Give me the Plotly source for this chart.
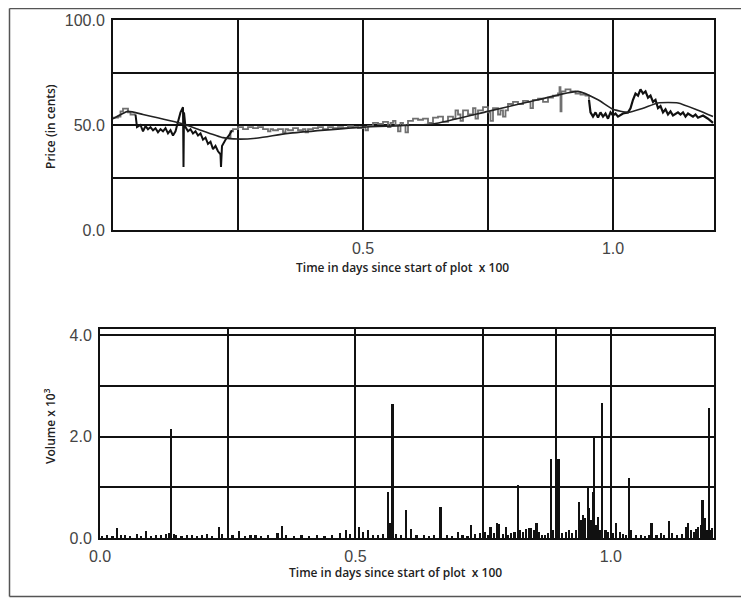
import plotly.graph_objects as go

# ---------------- data ----------------
# moving-average (smooth) price line
avg_time = [0, 0.03, 0.06, 0.14, 0.17, 0.22, 0.25, 0.29, 0.35, 0.5, 0.64, 0.75, 0.85, 0.93,
            0.97, 1.0, 1.03, 1.06, 1.09, 1.13, 1.17, 1.2]
avg_price = [53, 56.5, 55, 50.5, 48, 44, 43.3, 43.8, 46, 49, 50.5, 56.5, 62, 66,
             62, 57.5, 56, 58, 60.5, 60.5, 57, 54]

# trade price, grey segments
grey_time_a = [0, 0.01, 0.015, 0.02, 0.027, 0.03, 0.035, 0.045]
grey_price_a = [53.5, 54, 56.5, 57.8, 57.8, 56, 55, 55]
grey_time_b = [0.23, 0.235, 0.24, 0.25, 0.26, 0.27, 0.28, 0.29, 0.30, 0.31, 0.315, 0.32, 0.33, 0.34,
               0.345, 0.35, 0.36, 0.37, 0.38, 0.385, 0.39, 0.40, 0.41, 0.42, 0.43, 0.44, 0.45, 0.46,
               0.47, 0.48, 0.49, 0.50, 0.505, 0.51, 0.52, 0.53, 0.54, 0.55, 0.555, 0.56, 0.565, 0.57,
               0.575, 0.58, 0.585, 0.59, 0.60, 0.61, 0.62, 0.63, 0.64, 0.65, 0.66, 0.67, 0.68, 0.685,
               0.69, 0.695, 0.70, 0.71, 0.72, 0.725, 0.73, 0.74, 0.75, 0.755, 0.76, 0.77, 0.775, 0.78,
               0.785, 0.79, 0.80, 0.81, 0.82, 0.83, 0.835, 0.84, 0.85, 0.86, 0.87, 0.88, 0.89, 0.893,
               0.895, 0.897, 0.905, 0.915, 0.925, 0.935, 0.945, 0.952]
grey_price_b = [44, 47, 48, 49, 48, 49, 48.5, 49, 48, 47, 48, 47.5, 48, 46.5,
                48, 47.5, 48.5, 47.5, 48, 46.5, 48, 48.5, 49, 48, 49, 48.5, 49, 48.5,
                49.5, 49, 48.5, 49, 47.5, 49.5, 51, 50.5, 51.5, 49, 51, 52, 50, 47,
                51, 50, 46.5, 52, 53, 52.5, 53, 51, 53.5, 54, 51.5, 54, 53, 57,
                55, 52, 57, 55, 58, 53, 57, 58.5, 56, 52, 58, 55, 57, 54,
                57, 60, 61, 60, 61.5, 61, 58, 62, 62.5, 61, 63, 64, 65, 68,
                56.5, 66, 67, 66, 65, 64.5, 64, 62]

# trade price, black segments
black_time_a = [0.045, 0.048, 0.055, 0.06, 0.065, 0.07, 0.075, 0.08, 0.085, 0.09, 0.095, 0.10,
                0.105, 0.11, 0.115, 0.12, 0.125, 0.13, 0.135, 0.14, 0.141, 0.142, 0.145, 0.15,
                0.155, 0.16, 0.165, 0.17, 0.175, 0.18, 0.185, 0.19, 0.195, 0.20, 0.205, 0.21,
                0.215, 0.216, 0.218, 0.225, 0.232, 0.238]
black_price_a = [55, 49, 50, 47, 49.5, 48, 49, 47.5, 48.5, 46.5, 48, 47,
                 48.5, 46, 47.5, 45, 47, 52, 56, 58.5, 30, 56, 49, 47,
                 48, 46, 47, 45, 46, 43, 44, 41, 42, 38.5, 40, 37.5,
                 36, 30, 40, 43, 45, 47.5]
black_time_b = [0.952, 0.955, 0.96, 0.965, 0.97, 0.975, 0.98, 0.985, 0.99, 0.995, 1.0, 1.005,
                1.01, 1.02, 1.03, 1.035, 1.04, 1.045, 1.05, 1.055, 1.06, 1.065, 1.07, 1.075,
                1.08, 1.085, 1.09, 1.095, 1.10, 1.105, 1.11, 1.115, 1.12, 1.13, 1.135, 1.14,
                1.145, 1.15, 1.16, 1.165, 1.17, 1.18, 1.19, 1.195, 1.2]
black_price_b = [62, 56, 54, 56, 53.5, 56, 54, 55.5, 53, 56, 54.5, 55.5,
                 54, 55.5, 56, 58, 62, 65, 64, 67, 65, 66, 63, 64,
                 61, 62, 58, 59, 56, 57.5, 55, 56.5, 54.5, 56, 55, 56,
                 54, 55.5, 54, 55, 53.5, 54.5, 53, 52, 51]

# volume (x 10^3)
vol_time = [0.005, 0.015, 0.025, 0.034, 0.042, 0.05, 0.06, 0.073, 0.08, 0.09, 0.10, 0.11, 0.12,
            0.13, 0.135, 0.14, 0.145, 0.15, 0.16, 0.17, 0.18, 0.19, 0.20, 0.21, 0.22, 0.233,
            0.24, 0.26, 0.273, 0.285, 0.295, 0.305, 0.315, 0.33, 0.348, 0.356, 0.365, 0.38,
            0.395, 0.41, 0.425, 0.44, 0.455, 0.47, 0.482, 0.49, 0.508, 0.515, 0.525, 0.535,
            0.545, 0.555, 0.565, 0.568, 0.573, 0.58, 0.59, 0.60, 0.61, 0.62, 0.635, 0.645,
            0.655, 0.667, 0.68, 0.69, 0.702, 0.71, 0.72, 0.727, 0.735, 0.745, 0.755, 0.76,
            0.765, 0.772, 0.778, 0.782, 0.79, 0.795, 0.80, 0.805, 0.812, 0.818, 0.822, 0.828,
            0.835, 0.84, 0.845, 0.85, 0.855, 0.86, 0.866, 0.872, 0.878, 0.883, 0.888, 0.893,
            0.897, 0.899, 0.905, 0.912, 0.918, 0.925, 0.932, 0.938, 0.942, 0.946, 0.95, 0.955,
            0.958, 0.962, 0.966, 0.968, 0.972, 0.976, 0.98, 0.984, 0.99, 0.995, 1.0, 1.005,
            1.01, 1.018, 1.025, 1.03, 1.036, 1.04, 1.05, 1.06, 1.068, 1.075, 1.08, 1.09,
            1.098, 1.105, 1.115, 1.12, 1.13, 1.14, 1.147, 1.152, 1.157, 1.163, 1.168, 1.172,
            1.177, 1.18, 1.184, 1.188, 1.192, 1.196, 1.199]
vol_k = [0.04, 0.05, 0.04, 0.20, 0.05, 0.06, 0.04, 0.08, 0.04, 0.14, 0.04, 0.06, 0.05,
         0.08, 0.10, 2.15, 0.07, 0.05, 0.04, 0.05, 0.06, 0.04, 0.05, 0.07, 0.04, 0.22,
         0.08, 0.05, 0.13, 0.04, 0.06, 0.05, 0.04, 0.05, 0.10, 0.24, 0.06, 0.04,
         0.06, 0.04, 0.05, 0.04, 0.06, 0.10, 0.16, 0.08, 0.22, 0.12, 0.15, 0.05,
         0.06, 0.07, 0.90, 0.30, 2.64, 0.08, 0.05, 0.55, 0.18, 0.05, 0.06, 0.04,
         0.05, 0.62, 0.05, 0.04, 0.11, 0.05, 0.04, 0.25, 0.08, 0.10, 0.12, 0.06,
         0.22, 0.10, 0.30, 0.28, 0.08, 0.22, 0.06, 0.10, 0.12, 1.04, 0.15, 0.12,
         0.18, 0.20, 0.20, 0.15, 0.30, 0.12, 0.06, 0.05, 0.10, 1.55, 0.15, 5.0,
         1.55, 1.55, 0.10, 0.12, 0.16, 0.10, 0.15, 0.70, 0.35, 0.45, 0.40, 1.00,
         0.60, 0.35, 0.90, 1.97, 0.25, 0.42, 0.15, 2.66, 0.15, 0.12, 0.08, 0.10,
         0.30, 0.12, 0.08, 0.06, 1.18, 0.15, 0.06, 0.05, 0.04, 0.06, 0.29, 0.06,
         0.10, 0.05, 0.33, 0.10, 0.05, 0.08, 0.22, 0.30, 0.15, 0.12, 0.18, 0.22,
         0.25, 0.75, 0.40, 0.15, 2.56, 0.15, 0.20]

top_x_ticks = [0.25, 0.5, 0.75, 1.0]
top_x_text = ["", "0.5", "", "1.0"]
top_y_ticks = [0, 25, 50, 75, 100]
top_y_text = ["0.0", "", "50.0", "", "100.0"]
bot_x_ticks = [0, 0.25, 0.5, 0.75, 1.0]
bot_x_text = ["0.0", "", "0.5", "", "1.0"]
bot_y_ticks = [0, 1, 2, 3, 4]
bot_y_text = ["0.0", "", "2.0", "", "4.0"]

# ---------------- figure ----------------
# the page body has an 8px margin, so the figure is drawn 8px in and kept that much smaller
OFF = 8
W, H = 749 - OFF, 598 - OFF
fig = go.Figure()

grey = "#707070"
fig.add_trace(go.Scatter(x=grey_time_a, y=grey_price_a, mode="lines", line_shape="hv",
                         line=dict(color=grey, width=1.8), xaxis="x", yaxis="y"))
fig.add_trace(go.Scatter(x=grey_time_b, y=grey_price_b, mode="lines", line_shape="hv",
                         line=dict(color=grey, width=1.8), xaxis="x", yaxis="y"))
fig.add_trace(go.Scatter(x=black_time_a, y=black_price_a, mode="lines",
                         line=dict(color="#111", width=2), xaxis="x", yaxis="y"))
fig.add_trace(go.Scatter(x=black_time_b, y=black_price_b, mode="lines",
                         line=dict(color="#111", width=2.2), xaxis="x", yaxis="y"))
fig.add_trace(go.Scatter(x=avg_time, y=avg_price, mode="lines", line_shape="spline",
                         line=dict(color="#222", width=1.6, smoothing=0.5), xaxis="x", yaxis="y"))

fig.add_trace(go.Bar(x=vol_time, y=vol_k, width=0.0032, marker=dict(color="#111", line_width=0),
                     xaxis="x2", yaxis="y2"))

def px_x(p):
    return (p - OFF) / W

def px_y(p):
    return 1 - (p - OFF) / H

tickfont = dict(family="Liberation Sans, Arial, sans-serif", size=16, color="#444")
axis_common = dict(showline=True, mirror=True, linecolor="#111", linewidth=2,
                   showgrid=True, gridcolor="#111", gridwidth=2, zeroline=False,
                   ticks="outside", ticklen=3, tickcolor="rgba(0,0,0,0)", automargin=False,
                   tickfont=tickfont, tickmode="array", fixedrange=True)

fig.update_layout(
    template="none",
    width=W, height=H,
    margin=dict(l=0, r=0, t=0, b=0, pad=0),
    paper_bgcolor="white", plot_bgcolor="white",
    showlegend=False,
    bargap=0,
    xaxis=dict(domain=[px_x(113), px_x(714)], range=[0, 1.202], anchor="y",
               tickvals=top_x_ticks, ticktext=top_x_text, **axis_common),
    yaxis=dict(domain=[px_y(230), px_y(20)], range=[0, 100], anchor="x",
               tickvals=top_y_ticks, ticktext=top_y_text, **axis_common),
    xaxis2=dict(domain=[px_x(100), px_x(714)], range=[0, 1.202], anchor="y2",
                tickvals=bot_x_ticks, ticktext=bot_x_text, **axis_common),
    yaxis2=dict(domain=[px_y(538), px_y(329)], range=[0, 4.12], anchor="x2",
                tickvals=bot_y_ticks, ticktext=bot_y_text, **axis_common),
)

titlefont = dict(family="Open Sans, DejaVu Sans, sans-serif", size=12, color="#222", weight=600)
annots = [
    dict(text="Time in days since start of plot\u00a0 x 100", x=px_x(402), y=px_y(268)),
    dict(text="Time in days since start of plot\u00a0 x 100", x=px_x(395), y=px_y(572)),
    dict(text="Price (in cents)", x=px_x(50), y=px_y(127), textangle=-90),
    dict(text="Volume x 10<sup>3</sup>", x=px_x(50), y=px_y(426), textangle=-90),
]
for a in annots:
    fig.add_annotation(xref="paper", yref="paper", showarrow=False, font=titlefont,
                       xanchor="center", yanchor="middle", **a)

# outer frame of the figure (only left, top and bottom edges are visible)
frame = dict(type="line", xref="paper", yref="paper", layer="below",
             line=dict(color="#555", width=1.5))
fig.add_shape(x0=px_x(9.5), x1=px_x(9.5), y0=px_y(596.5), y1=0.999, **frame)
fig.add_shape(x0=px_x(9.5), x1=1.0, y0=0.999, y1=0.999, **frame)
fig.add_shape(x0=px_x(9.5), x1=1.0, y0=px_y(596.5), y1=px_y(596.5), **frame)

fig.write_html("out.html")
